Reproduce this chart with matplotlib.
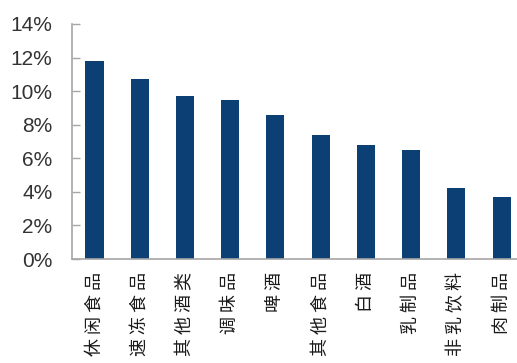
import matplotlib.pyplot as plt
from matplotlib.ticker import FuncFormatter

plt.rcParams["font.family"] = ["Noto Sans CJK SC", "DejaVu Sans"]

categories = ["休闲食品", "速冻食品", "其他酒类", "调味品", "啤酒",
              "其他食品", "白酒", "乳制品", "非乳饮料", "肉制品"]
growth = [11.8, 10.7, 9.7, 9.5, 8.6, 7.4, 6.8, 6.5, 4.2, 3.7]
y_ticks = [0, 2, 4, 6, 8, 10, 12, 14]

bar_color = "#0c3f74"
axis_color = "#a6a6a6"

fig = plt.figure(figsize=(5.17, 3.63), dpi=100)
ax = fig.add_axes([0.139, 0.2865, 0.875, 0.6475])

positions = range(len(categories))
ax.bar(positions, growth, width=0.4, color=bar_color, zorder=2)

ax.set_xlim(-0.5, len(categories) - 0.5)
ax.set_ylim(0, 14)
ax.set_yticks(y_ticks)
ax.yaxis.set_major_formatter(FuncFormatter(lambda v, _: f"{v:.0f}%"))

# category names run bottom-to-top, with a little letter spacing
ax.set_xticks(list(positions))
ax.set_xticklabels([" ".join(name) for name in categories],
                   rotation=90, va="top", ha="center", fontsize=13,
                   color="#1a1a1a")

for label in ax.get_yticklabels():
    label.set_family(["Liberation Sans", "DejaVu Sans"])
    label.set_fontsize(15)
    label.set_color("#333333")

ax.tick_params(axis="y", direction="in", length=6, width=1,
               color=axis_color, pad=14)
ax.tick_params(axis="x", length=0, pad=9)

for side in ("top", "right"):
    ax.spines[side].set_visible(False)
for side in ("left", "bottom"):
    ax.spines[side].set_color(axis_color)
    ax.spines[side].set_linewidth(1.2)

fig.savefig("out.png", dpi=100)
